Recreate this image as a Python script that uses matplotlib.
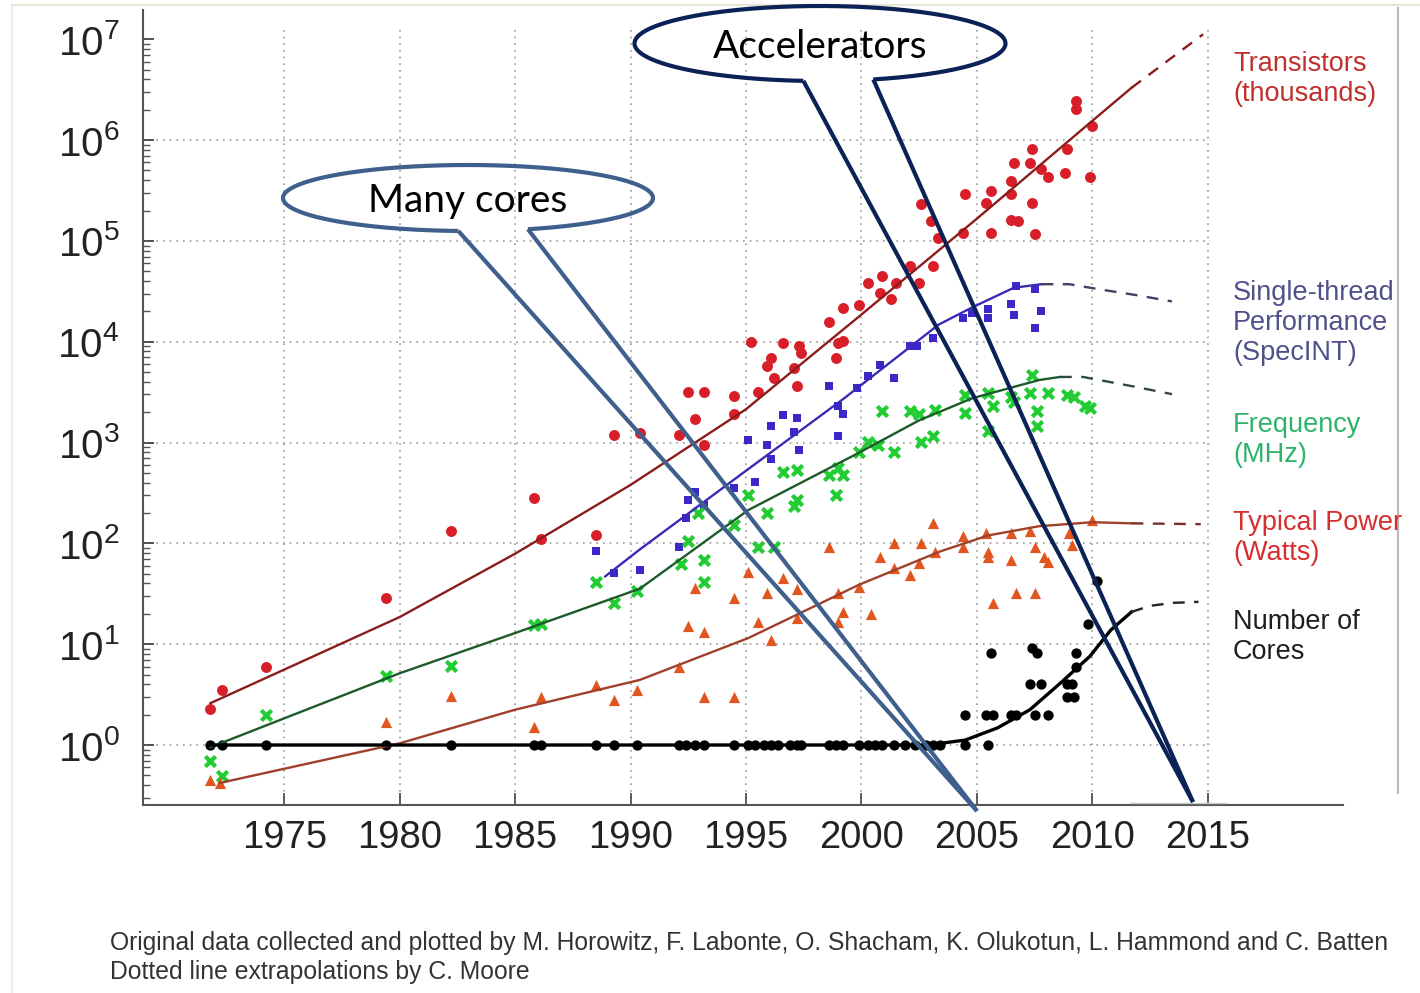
import numpy as np
import matplotlib
matplotlib.use('Agg')
import matplotlib.pyplot as plt
from matplotlib.ticker import LogLocator, NullFormatter

# ---- scatter data (year, value) ----
tr_year = [1971.8, 1972.3, 1974.2, 1979.4, 1982.2, 1985.8, 1986.1, 1988.5, 1989.3, 1990.4,
           1992.1, 1992.5, 1992.8, 1993.2, 1993.2, 1994.5, 1994.5, 1995.2, 1995.5, 1996.1,
           1995.9, 1996.2, 1996.6, 1997.1, 1997.3, 1997.4, 1997.2, 1998.6, 1999.0, 1998.9,
           1999.2, 1999.2, 1999.9, 2000.3, 2000.8, 2000.9, 2001.3, 2001.5, 2002.1, 2002.5,
           2003.1, 2002.6, 2003.0, 2003.3, 2004.4, 2004.5, 2005.4, 2005.6, 2005.6, 2006.5,
           2006.6, 2006.5, 2006.5, 2006.8, 2007.3, 2007.4, 2007.4, 2007.5, 2007.8, 2008.1,
           2008.8, 2008.9, 2009.3, 2009.3, 2009.9, 2010.0]
tr_val = [2.3, 3.5, 6, 29, 134, 280, 110, 120, 1200, 1250,
          1200, 3200, 1700, 3200, 950, 2900, 1900, 10000, 3200, 6900,
          5700, 4400, 9800, 5500, 9000, 7800, 3600, 15600, 9800, 6900,
          10100, 21700, 22900, 38500, 30600, 44700, 26300, 38500, 56000, 38500,
          56000, 230000, 157000, 107000, 120000, 290000, 240000, 313000, 120000, 393000,
          597000, 290000, 162000, 158000, 597000, 822000, 240000, 117000, 513000, 427000,
          468000, 813000, 2450000, 2020000, 427000, 1380000]

st_year = [1988.5, 1989.3, 1990.4, 1992.1, 1992.5, 1992.8, 1992.4, 1993.2, 1994.5, 1995.1,
           1995.4, 1995.9, 1996.1, 1996.1, 1996.6, 1997.1, 1997.2, 1997.3, 1999.0, 1999.0,
           1999.2, 1998.6, 1999.8, 2000.3, 2000.8, 2001.4, 2002.1, 2002.4, 2003.1, 2004.4,
           2004.8, 2005.5, 2005.5, 2006.5, 2006.6, 2006.7, 2007.5, 2007.8, 2007.5]
st_val = [84, 51, 55, 93, 270, 320, 180, 240, 355, 1050,
          410, 950, 1450, 680, 1860, 1260, 1740, 850, 1170, 2300,
          1900, 3600, 3470, 4570, 5940, 4370, 9000, 9000, 11000, 17300,
          19400, 20900, 17300, 23400, 18600, 35500, 33100, 20000, 13700]

fq_year = [1971.8, 1972.3, 1974.2, 1979.4, 1982.2, 1985.8, 1986.1, 1988.5, 1989.3, 1990.3,
           1992.2, 1992.5, 1993.2, 1993.2, 1992.9, 1994.5, 1995.1, 1995.5, 1996.2, 1995.9,
           1996.6, 1997.2, 1997.2, 1997.1, 1998.6, 1998.9, 1999.2, 1999.0, 1999.9, 2000.3,
           2000.7, 2001.4, 2000.9, 2002.1, 2002.6, 2003.1, 2002.5, 2003.2, 2004.5, 2004.5,
           2005.5, 2005.7, 2005.5, 2006.5, 2006.6, 2007.4, 2007.3, 2007.6, 2007.6, 2008.1,
           2008.9, 2009.2, 2009.7, 2009.9]
fq_val = [0.69, 0.49, 2.0, 4.8, 6.1, 15.6, 16, 41, 25.5, 34,
          63, 105, 69, 41, 200, 153, 300, 93, 93, 200,
          510, 540, 270, 234, 480, 300, 480, 560, 800, 1020,
          950, 810, 2040, 2040, 1020, 1150, 1900, 2100, 2950, 1950,
          3100, 2300, 1290, 2850, 2500, 4700, 3100, 2040, 1450, 3100,
          2950, 2850, 2300, 2200]

pw_year = [1971.8, 1972.2, 1979.4, 1982.2, 1985.8, 1986.1, 1988.5, 1989.3, 1990.3, 1992.8,
           1992.5, 1993.2, 1993.2, 1994.5, 1994.5, 1992.1, 1995.1, 1995.5, 1995.9, 1996.1,
           1996.6, 1997.2, 1997.2, 1998.6, 1999.0, 1999.2, 1999.0, 1999.9, 2000.4, 2000.8,
           2001.4, 2001.4, 2002.1, 2002.5, 2002.6, 2003.1, 2003.2, 2004.4, 2004.4, 2005.4,
           2005.5, 2005.5, 2005.7, 2006.5, 2006.5, 2006.7, 2007.5, 2007.3, 2007.5, 2007.9,
           2008.1, 2009.0, 2009.1, 2010.0]
pw_val = [0.45, 0.42, 1.7, 3.07, 1.5, 3.0, 3.9, 2.8, 3.5, 36,
          15, 13.3, 3.0, 28.6, 3.0, 6.0, 52.5, 16.7, 32, 11,
          45, 35, 18, 93, 32, 21, 16.7, 37, 20, 74,
          100, 57, 49, 64, 100, 158, 83, 117, 93, 126,
          83, 74, 25.5, 126, 69, 32, 32, 132, 93, 74,
          66, 126, 97, 171]

co_year = [1971.8, 1972.3, 1974.2, 1979.4, 1982.2, 1985.8, 1986.1, 1988.5, 1989.3, 1990.3,
           1992.1, 1992.4, 1992.8, 1993.2, 1994.5, 1995.1, 1995.4, 1995.8, 1996.1, 1996.4,
           1996.9, 1997.2, 1997.4, 1998.6, 1998.9, 1999.2, 1999.9, 2000.3, 2000.6, 2000.9,
           2001.4, 2001.9, 2002.3, 2002.8, 2003.1, 2003.4, 2004.5, 2005.5,
           2004.5, 2005.4, 2005.7, 2006.5, 2006.7, 2007.5, 2008.1,
           2005.6, 2007.4, 2007.6, 2007.3, 2007.8, 2008.9, 2009.1, 2008.9, 2009.2,
           2009.3, 2009.3, 2009.8, 2010.2]
co_val = [1] * 38 + [2, 2, 2, 2, 2, 2, 2,
                     8.1, 9.1, 8.1, 4, 4, 4, 4, 3, 3,
                     8.1, 6, 16, 42]

# ---- trend lines (solid fit, dashed extrapolation) ----
tr_fit_year = [1971.8, 1975, 1980, 1985, 1990, 1995, 2000, 2005, 2010, 2011.7]
tr_fit_val = [2.6, 5.6, 18.6, 79, 380, 2140, 18600, 166000, 1550000, 3300000]
tr_ext_year = [2011.7, 2014.8]
tr_ext_val = [3300000, 11200000]

st_fit_year = [1988.9, 1990.4, 1995, 1999.2, 2003.35, 2004.8, 2006.6, 2007.8]
st_fit_val = [47, 87, 525, 2690, 14800, 21900, 34300, 37200]
st_ext_year = [2007.8, 2009.0, 2010.3, 2011.9, 2013.45]
st_ext_val = [37200, 37200, 33100, 29000, 25100]

fq_fit_year = [1971.8, 1975, 1980, 1985, 1990.4, 1995.1, 1999.9, 2002.5, 2004.8, 2007.7, 2008.6]
fq_fit_val = [0.95, 1.84, 5.15, 12.9, 35.5, 214, 794, 1660, 2750, 4170, 4470]
fq_ext_year = [2008.6, 2009.6, 2011.7, 2013.45]
fq_ext_val = [4470, 4470, 3630, 3020]

pw_fit_year = [1972.2, 1980, 1985, 1990.4, 1995.1, 1999.9, 2003.4, 2005.5, 2007.7, 2010, 2011.7]
pw_fit_val = [0.42, 1.04, 2.24, 4.42, 11.5, 38.9, 83, 120, 148, 162, 158]
pw_ext_year = [2011.7, 2014.7]
pw_ext_val = [158, 155]

co_fit_year = [1971.8, 2002.9, 2004.5, 2005.9, 2007.3, 2008.7, 2009.9, 2010.8, 2011.7]
co_fit_val = [1, 1, 1.12, 1.48, 2.24, 4.27, 7.6, 13.8, 20.9]
co_ext_year = [2011.7, 2012.5, 2013.5, 2014.6]
co_ext_val = [20.9, 24, 25.7, 26.3]

tick_years = [1975, 1980, 1985, 1990, 1995, 2000, 2005, 2010, 2015]
decades = list(range(8))

series_labels = ["Transistors\n(thousands)", "Single-thread\nPerformance\n(SpecINT)",
                 "Frequency\n(MHz)", "Typical Power\n(Watts)", "Number of\nCores"]

plt.rcParams['mathtext.fontset'] = 'custom'
plt.rcParams['mathtext.rm'] = 'Liberation Sans'
plt.rcParams['mathtext.it'] = 'Liberation Sans'
plt.rcParams['mathtext.bf'] = 'Liberation Sans'

W, H = 1420, 993
fig = plt.figure(figsize=(W / 100, H / 100), dpi=100)
ax = fig.add_axes([143 / W, 1 - 805 / H, 1200 / W, 795 / H])
ax.set_yscale('log')
ax.set_xlim(1968.88, 2020.86)
ax.set_ylim(10 ** -0.595, 10 ** 7.29)

# grid (only up to 2015 as in the picture)
ax.hlines([10 ** d for d in range(7)], 1968.88, 2015.1, colors='#9a9a9a',
          linestyles=(0, (1, 3)), lw=1.2, zorder=1)
ax.vlines(tick_years, 10 ** -0.595, 10 ** 7.1, colors='#9a9a9a',
          linestyles=(0, (1, 3)), lw=1.2, zorder=1)

# scatter
ax.scatter(tr_year, tr_val, s=62, marker='o', color='#d81e28', lw=0, zorder=2)
ax.scatter(st_year, st_val, s=30, marker='s', color='#3c28c8', lw=0, zorder=2)
ax.scatter(fq_year, fq_val, s=55, marker='x', color='#22cc33', lw=3, zorder=2)
ax.scatter(pw_year, pw_val, s=65, marker='^', color='#e0561e', lw=0, zorder=2)
ax.scatter(co_year, co_val, s=55, marker='o', color='black', lw=0, zorder=2)

# fits
ax.plot(tr_fit_year, tr_fit_val, color='#8b1c1c', lw=1.7, zorder=3)
ax.plot(tr_ext_year, tr_ext_val, color='#8b1c1c', lw=1.7, ls=(0, (5, 4)), zorder=3)
ax.plot(st_fit_year, st_fit_val, color='#3a2ab8', lw=1.7, zorder=3)
ax.plot(st_ext_year, st_ext_val, color='#404060', lw=1.7, ls=(0, (5, 4)), zorder=3)
ax.plot(fq_fit_year, fq_fit_val, color='#1d5a2a', lw=1.7, zorder=3)
ax.plot(fq_ext_year, fq_ext_val, color='#2f4a40', lw=1.7, ls=(0, (5, 4)), zorder=3)
ax.plot(pw_fit_year, pw_fit_val, color='#a0402a', lw=1.7, zorder=3)
ax.plot(pw_ext_year, pw_ext_val, color='#7a3030', lw=1.7, ls=(0, (5, 4)), zorder=3)
ax.plot(co_fit_year, co_fit_val, color='black', lw=2.4, zorder=3)
ax.plot(co_ext_year, co_ext_val, color='#222222', lw=1.7, ls=(0, (5, 4)), zorder=3)

# axes styling
for side in ['top', 'right']:
    ax.spines[side].set_visible(False)
for side in ['left', 'bottom']:
    ax.spines[side].set_color('#555555')
    ax.spines[side].set_linewidth(1.5)

ax.set_xticks(tick_years)
ax.set_xticklabels([str(y) for y in tick_years], family='Liberation Sans',
                   fontsize=27.5, color='#222222')
ax.set_yticks([10 ** d for d in decades])
ax.set_yticklabels(['$10^{%d}$' % d for d in decades], fontsize=29, color='#222222')
ax.yaxis.set_minor_locator(LogLocator(base=10, subs=np.arange(2, 10)))
ax.yaxis.set_minor_formatter(NullFormatter())
ax.tick_params(axis='x', direction='in', length=9, width=1.2, pad=11, color='#444444')
ax.tick_params(axis='y', which='major', direction='in', length=8, width=1.3, pad=17, color='#444444')
ax.tick_params(axis='y', which='minor', direction='in', length=5, width=1.0, color='#555555')

# ---- overlay in pixel coordinates for labels and callouts ----
ov = fig.add_axes([0, 0, 1, 1], zorder=10)
ov.set_xlim(0, W)
ov.set_ylim(H, 0)
ov.axis('off')

# picture frame lines
ov.plot([12, W], [5, 5], color='#e8e4d6', lw=1.5)
ov.plot([12, 12], [5, H], color='#ece8dc', lw=1.2)
ov.plot([1398, 1398], [8, 793], color='#b8b8b8', lw=1.5)
ov.plot([1130, 1226], [803, 803], color='#c8c8c8', lw=1.0)

label_colors = ['#c0302c', '#50508a', '#2fb36a', '#d62f2f', '#1e1e1e']
label_y = [79, 323, 440, 538, 637]
for txt, c, yy in zip(series_labels, label_colors, label_y):
    ov.text(1233, yy, txt, color=c, fontsize=19.5, family='Liberation Sans',
            ha='left', va='center', linespacing=1.22)

ov.text(110, 943, "Original data collected and plotted by M. Horowitz, F. Labonte, O. Shacham, "
        "K. Olukotun, L. Hammond and C. Batten", fontsize=17.8, family='Liberation Sans',
        color='#333333', ha='left', va='center')
ov.text(110, 972, "Dotted line extrapolations by C. Moore", fontsize=17.8,
        family='Liberation Sans', color='#333333', ha='left', va='center')


def callout(cx, cy, a, b, t_left, t_right, tip, color, text):
    # ellipse outline with a gap where the tail joins
    t = np.radians(np.linspace(t_left, t_right + 360, 300))
    ov.plot(cx + a * np.cos(t), cy + b * np.sin(t), color=color, lw=3, solid_capstyle='butt')
    for ang in (t_left, t_right):
        r = np.radians(ang)
        ov.plot([cx + a * np.cos(r), tip[0]], [cy + b * np.sin(r), tip[1]],
                color=color, lw=3, solid_capstyle='butt')
    ov.text(cx, cy + 3, text, fontsize=28, family='Lato', color='black',
            ha='center', va='center')


callout(468, 198, 185, 33, 93.0, 71.1, (977, 811), '#3f5f8c', "Many cores")
callout(820, 43.5, 185.5, 37.5, 95.15, 73.3, (1193, 802), '#0b2257', "Accelerators")

fig.savefig('out.png', dpi=100, facecolor='white')
